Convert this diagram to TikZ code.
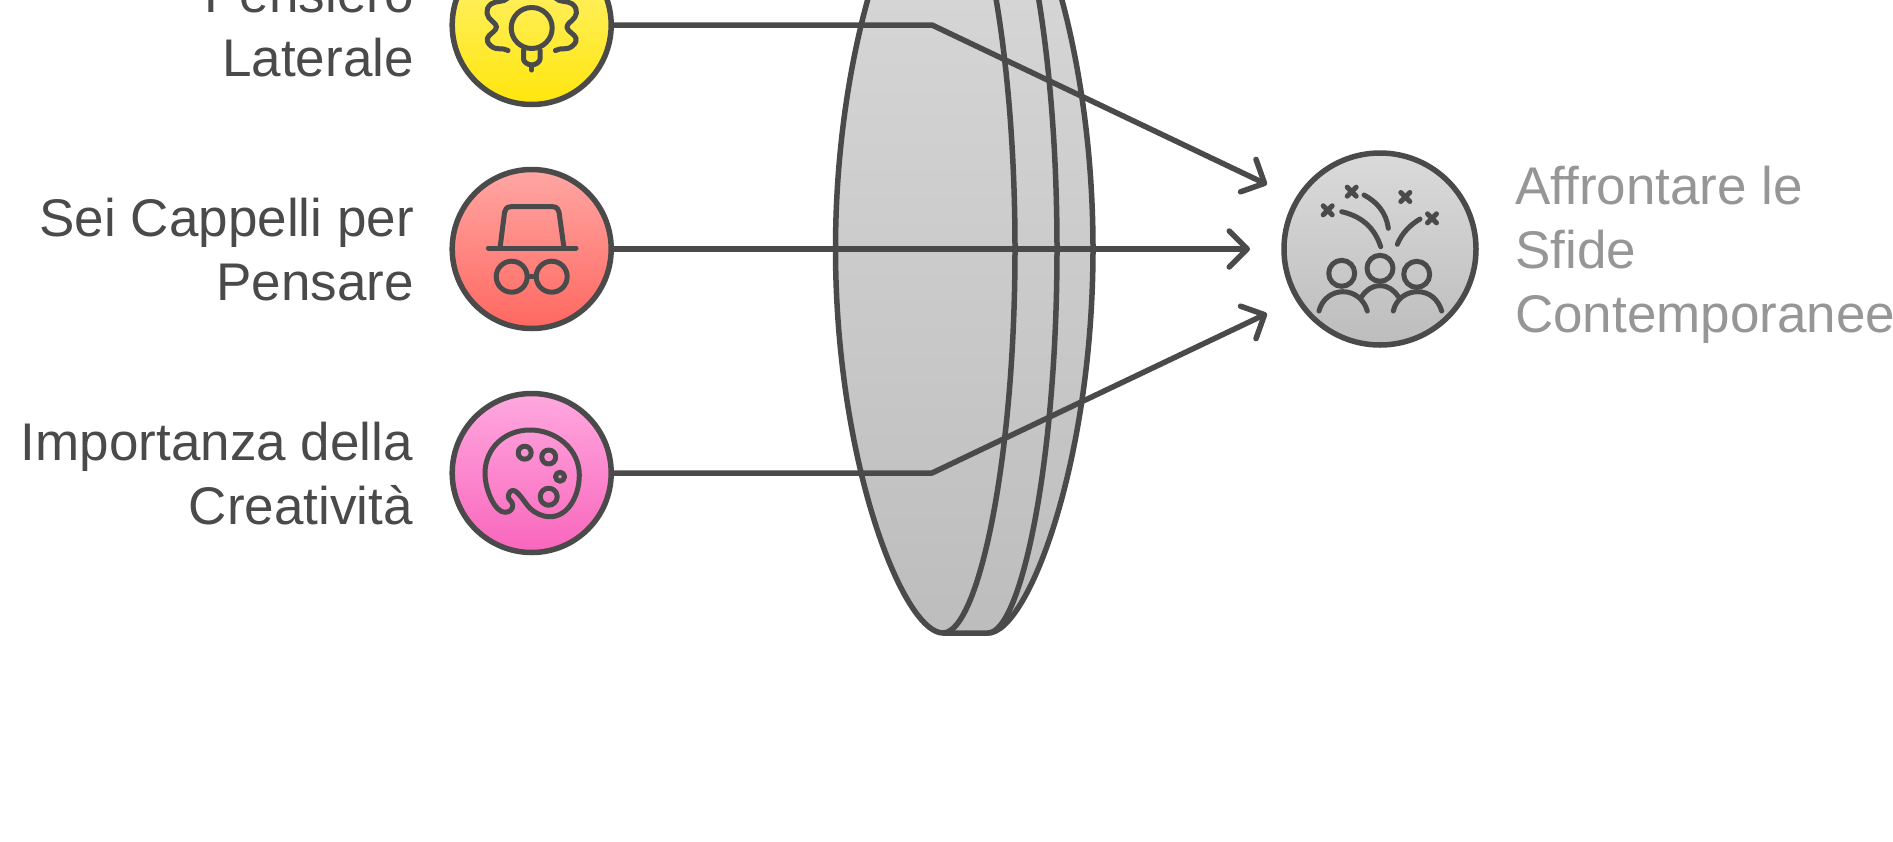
\documentclass[tikz,border=0pt]{standalone}
\usepackage{fontspec}
\setmainfont{Liberation Sans}
\usetikzlibrary{arrows.meta}
\definecolor{ink}{HTML}{4A4A4A}
\definecolor{soft}{HTML}{969696}
\definecolor{grayA}{HTML}{DADADA}
\definecolor{grayB}{HTML}{BDBDBD}
\definecolor{yelA}{HTML}{FFF27A}
\definecolor{yelB}{HTML}{FFE60C}
\definecolor{redA}{HTML}{FFA6A3}
\definecolor{redB}{HTML}{FF6860}
\definecolor{pinkA}{HTML}{FFA8DF}
\definecolor{pinkB}{HTML}{F966BC}
\tikzset{
  line/.style={draw=ink,line width=5.5pt,line join=round},
  conn/.style={line,line cap=round},
  arrowed/.style={conn,-{Straight Barb[length=18pt,width=36pt,line width=5.5pt,round]}},
  disc/.style={circle,draw=ink,line width=5.5pt,inner sep=0pt,minimum size=#1},
  icon/.style={draw=ink,line width=5pt,line cap=round,line join=round},
  lbl/.style={text=ink,font=\fontsize{53}{64}\selectfont,align=right,inner sep=0pt},
  lbr/.style={text=soft,font=\fontsize{53}{64}\selectfont,align=left,inner sep=0pt},
  lens/.style={line,top color=grayA,bottom color=grayB}
}
\begin{document}
\begin{tikzpicture}[x=1pt,y=-1pt]
\path[use as bounding box,clip] (0,0) rectangle (1893,841);
\fill[white] (0,0) rectangle (1893,841);
% lens
\draw[lens] (943,-135) .. controls (903,-135) and (835.5,37) .. (835.5,249)
  .. controls (835.5,461) and (903,633) .. (943,633) -- (988,633)
  .. controls (1028,633) and (1093,461) .. (1093,249)
  .. controls (1093,37) and (1028,-135) .. (988,-135) -- cycle;
\draw[line] (943,-135) .. controls (978,-135) and (1015,37) .. (1015,249)
  .. controls (1015,461) and (978,633) .. (943,633);
\draw[line] (988,-135) .. controls (1021,-135) and (1057,37) .. (1057,249)
  .. controls (1057,461) and (1021,633) .. (988,633);
% discs
\node[disc=159pt,top color=yelA,bottom color=yelB] (n1) at (531.7,25) {};
\node[disc=159pt,top color=redA,bottom color=redB] (n2) at (531.7,249) {};
\node[disc=159pt,top color=pinkA,bottom color=pinkB] (n3) at (531.7,473) {};
\node[disc=192pt,top color=grayA,bottom color=grayB] (n4) at (1380,249) {};
% connectors
\coordinate (b1) at (932,25);
\coordinate (b3) at (932,473);
\coordinate (t1) at (1267,184.5);
\coordinate (t2) at (1250,249);
\coordinate (t3) at (1267,313.5);
\draw[arrowed] (n1.east) -- (b1) -- (t1);
\draw[arrowed] (n2.east) -- (t2);
\draw[arrowed] (n3.east) -- (b3) -- (t3);
% labels
\node[lbl,anchor=base east] (l1) at (414,76) {Pensiero\\Laterale};
\node[lbl,anchor=base east] (l2) at (414,300.5) {Sei Cappelli per\\Pensare};
\node[lbl,anchor=base east] (l3) at (413,524.5) {Importanza della\\Creatività};
\node[lbr,anchor=base west] (l4) at (1515,332.5) {Affrontare le\\Sfide\\Contemporanee};
% bulb icon
\draw[icon] (531.7,28) circle (20.5);
\draw[icon] (523.5,50) -- (523.5,59) .. controls (523.5,62) and (528,65) .. (531.7,65)
  .. controls (535.4,65) and (540,62) .. (540,59) -- (540,50);
\draw[icon] (531.7,65) -- (531.7,70);
\draw[icon] (508,50.5) .. controls (502,47) and (497,51) .. (491,46)
  .. controls (484,40) and (488,36) .. (492,33) .. controls (498,28) and (498,26) .. (492,21)
  .. controls (487,17) and (484,10) .. (491,4) .. controls (497,0) and (503,3) .. (508,-2);
\draw[icon] (555.4,50.5) .. controls (561.4,47) and (566.4,51) .. (572.4,46)
  .. controls (579.4,40) and (575.4,36) .. (571.4,33) .. controls (565.4,28) and (565.4,26) .. (571.4,21)
  .. controls (576.4,17) and (579.4,10) .. (572.4,4) .. controls (566.4,0) and (560.4,3) .. (555.4,-2);
% hat icon
\draw[icon] (488.3,248) -- (576,248);
\draw[icon] (500,248) -- (504.6,212) .. controls (505,209) and (507,206.7) .. (511,206.7) -- (552.5,206.7)
  .. controls (556.5,206.7) and (558.5,209) .. (559,212) -- (564,248);
\draw[icon] (511.7,276.7) circle (15.5);
\draw[icon] (551.7,276.7) circle (15.5);
\draw[icon] (527.2,276.7) -- (536.2,276.7);
% palette icon
\draw[icon] (515,491) .. controls (520,494) and (525,503) .. (530,508.3)
  .. controls (535,513) and (542,516.7) .. (550,516.7)
  .. controls (568,516.7) and (579.3,496) .. (579.3,475)
  .. controls (579.3,449) and (556,430) .. (530,430)
  .. controls (504,430) and (485,449) .. (485,473.3)
  .. controls (485,490) and (495,512.3) .. (505,512.3)
  .. controls (510,512.3) and (513,509) .. (512.7,505)
  .. controls (512.5,501) and (508.3,500) .. (508.3,496.7)
  .. controls (508.3,492) and (512,489) .. (515,491) -- cycle;
\draw[icon] (524.7,452.7) circle (6.5);
\draw[icon] (548.7,457) circle (7);
\draw[icon] (560,476.7) circle (4.5);
\draw[icon] (548.7,496.7) circle (8.5);
% people icon
\draw[icon] (1341.7,273.3) circle (13);
\draw[icon] (1380,268.3) circle (13);
\draw[icon] (1416.7,274.3) circle (13);
\draw[icon] (1319,311) .. controls (1322,299) and (1332,291.7) .. (1343,291.7) .. controls (1354,291.7) and (1364,299) .. (1367.3,311);
\draw[icon] (1393.3,311) .. controls (1396,299) and (1406,291.7) .. (1417.7,291.7) .. controls (1429,291.7) and (1438,299) .. (1441.7,311);
\draw[icon] (1361.7,296.7) .. controls (1366,290) and (1372,285.7) .. (1380,285.7) .. controls (1388,285.7) and (1394,290) .. (1398.3,296.7);
\draw[icon] (1341.7,211.7) .. controls (1360,216) and (1374,226) .. (1380.7,246.7);
\draw[icon] (1364,195) .. controls (1377,202) and (1386,212) .. (1388.3,228.3);
\draw[icon] (1397.3,244.3) .. controls (1402,233) and (1410,225) .. (1420,219);
\foreach \cx/\cy in {1327.7/210.3,1351.7/191.7,1405.3/197,1432/218.3}{
  \draw[icon] (\cx-4.5,\cy-4.5) -- (\cx+4.5,\cy+4.5) (\cx-4.5,\cy+4.5) -- (\cx+4.5,\cy-4.5);
}
\end{tikzpicture}
\end{document}
